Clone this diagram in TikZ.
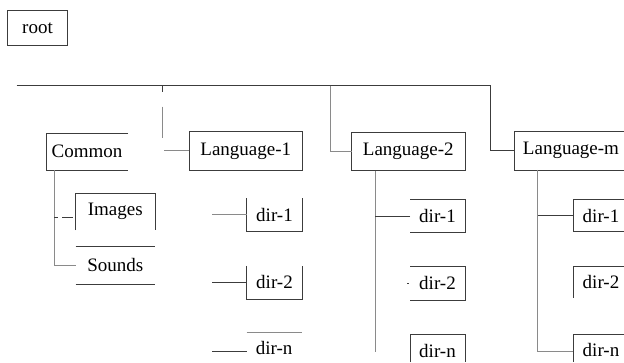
\documentclass[tikz,border=0pt]{standalone}
\usepackage{fontspec}
\setmainfont{Liberation Serif}
\definecolor{ink}{HTML}{3C3C3C}
\definecolor{soft}{HTML}{8A8A8A}
\tikzset{
  txt/.style={font=\fontsize{19}{22}\selectfont, inner sep=0pt, outer sep=0pt, align=center},
  ln/.style={draw=ink, line width=0.8pt},
  pale/.style={draw=soft, line width=0.8pt},
}
\begin{document}
\begin{tikzpicture}[x=1pt,y=-1pt]
\useasboundingbox[fill=white] (0,0) rectangle (624,362);
\coordinate (rim) at (624,362);

% nodes
\node[txt, ln, minimum width=60.4pt, minimum height=35.7pt] (root) at (37.5,27.9) {root};
\node[txt, minimum width=82pt, minimum height=36.7pt] (common) at (87,151.7) {Common};
\node[txt, ln, minimum width=113pt, minimum height=38.3pt] (lang1) at (245.8,150.8) {Language-1};
\node[txt, ln, minimum width=113.3pt, minimum height=38.4pt] (lang2) at (408.3,151.5) {Language-2};
\node[txt, minimum width=113.4pt, minimum height=38.3pt] (langm) at (571,150.8) {Language-m};

\node[txt, minimum width=79.3pt, minimum height=36.7pt] (images) at (115.3,211.7) {Images};
\node[txt, minimum width=79.3pt, minimum height=37.3pt] (sounds) at (115.3,265.3) {Sounds};

\node[txt, minimum width=55.6pt, minimum height=32.7pt] (d11) at (274.5,214.7) {dir-1};
\node[txt, minimum width=55.6pt, minimum height=33.3pt] (d12) at (274.5,282.4) {dir-2};
\node[txt, minimum width=55pt, minimum height=32pt] (d1n) at (274.2,348.3) {dir-n};

\node[txt, minimum width=55pt, minimum height=33.4pt] (d21) at (437.5,216) {dir-1};
\node[txt, minimum width=55pt, minimum height=33.3pt] (d22) at (437.5,283.3) {dir-2};
\node[txt, minimum width=55pt, minimum height=33pt] (d2n) at (437.5,350.5) {dir-n};

\node[txt, minimum width=55.4pt, minimum height=32.4pt] (dm1) at (601,215.5) {dir-1};
\node[txt, minimum width=55.4pt, minimum height=32pt] (dm2) at (601,282) {dir-2};
\node[txt, minimum width=55.4pt, minimum height=32pt] (dmn) at (601,350) {dir-n};

% open frames
\draw[ln] (common.north east) -- (common.north west) -- (common.south west) -- (common.south east);
\draw[ln] (langm.north west -| rim) -- (langm.north west) -- (langm.south west) -- (langm.south west -| rim);
\draw[ln] (images.south west) -- (images.north west) -- (images.north east) -- (images.south east);
\draw[ln] (sounds.north west) -- (sounds.north east);
\draw[ln] (sounds.south west) -- (sounds.south east);

\draw[ln] (d11.north west) -- (d11.south west) -- (d11.south east) -- (d11.north east);
\draw[ln] (d12.north west) -- (d12.south west) -- (d12.south east) -- (d12.north east);
\draw[pale] (d1n.north west) -- (d1n.north east);

\draw[ln] (d21.north west) -- (d21.north east) -- (d21.south east) -- (d21.south west);
\draw[ln] (d22.north west) -- (d22.north east) -- (d22.south east) -- (d22.south west);
\draw[ln] (d2n.south west |- rim) -- (d2n.north west) -- (d2n.north east) -- (d2n.south east |- rim);

\draw[ln] (dm1.north west -| rim) -- (dm1.north west) -- (dm1.south west) -- (dm1.south west -| rim);
\draw[ln] (dm2.north west -| rim) -- (dm2.north west) -- ([yshift=-16pt]dm2.west);
\draw[ln] (dmn.north west -| rim) -- (dmn.north west) -- (dmn.south west |- rim);

% main bus and branches to the language folders
\coordinate (busL) at (16.7,85.7);
\coordinate (busR) at (490.7,85.7);
\coordinate (tap1) at (162.3,85.7);
\coordinate (tap2) at (330,85.7);
\draw[ln] (busL) -- (busR) |- (langm.west);
\draw[pale] (tap2) |- (lang2.west);
\draw[ln] (tap1) -- ++(0,6.6);
\draw[pale] ([yshift=-21pt]tap1) -- ++(0,31.6);
\draw[pale] (lang1.west) -- ++(-25.3,0);

% Common subtree
\draw[pale] ([xshift=8.3pt]common.south west) |- (sounds.west);
\draw[ln] ([shift={(-3,5.6)}]images.west) -- ++(-11,0);
\draw[ln] ([shift={(-17.7,5.6)}]images.west) -- ++(-3.7,0);

% Language-1 subtree
\draw[pale] (d11.west) -- ++(-34.4,0);
\draw[ln] (d12.west) -- ++(-34.4,0);
\draw[ln] ([yshift=-3.4pt]d1n.west) -- ++(-34.4,0);

% Language-2 subtree
\coordinate (t2) at ([xshift=23.3pt]lang2.south west);
\draw[pale] (t2) -- ++(0,181);
\draw[ln] (d21.west) -- (d21.west -| t2);
\draw[ln] ([xshift=-1.5pt]d22.west) -- ++(-1.5,0);

% Language-m subtree
\coordinate (tm) at ([xshift=23.4pt]langm.south west);
\draw[pale] (tm) |- ([yshift=-1.7pt]dmn.west);
\draw[ln] (dm1.west) -- (dm1.west -| tm);
\end{tikzpicture}
\end{document}
